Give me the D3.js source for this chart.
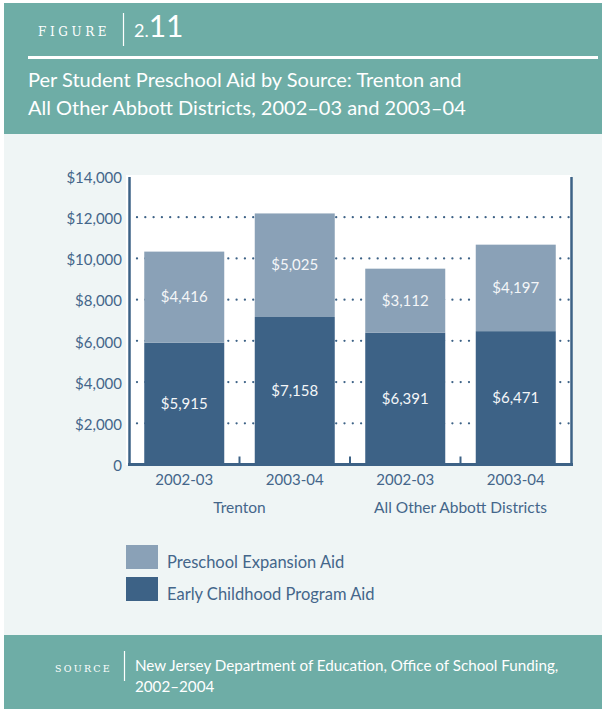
<!DOCTYPE html>
<html>
<head>
<meta charset="utf-8">
<script src="https://cdn.jsdelivr.net/npm/d3@7"></script>
<style>
  body { margin: 0; background: #fff; }
  svg { display: block; }
  text { font-family: Lato, "Open Sans", sans-serif; }
</style>
</head>
<body>
<script>
// chart values
const groups = ['Trenton', 'All Other Abbott Districts'];
const years = ['2002-03', '2003-04'];
const bars = ['T-2002-03', 'T-2003-04', 'A-2002-03', 'A-2003-04'];
const earlyChildhood = [5915, 7158, 6391, 6471];
const preschoolExpansion = [4416, 5025, 3112, 4197];
const seriesNames = ['Preschool Expansion Aid', 'Early Childhood Program Aid'];
const yTicks = [0, 2000, 4000, 6000, 8000, 10000, 12000, 14000];

const W = 602, H = 709;
const teal = '#6eada6';
const dark = '#3d6286';
const light = '#8aa1b7';
const ink = '#44668a';

const svg = d3.select('body').append('svg')
  .attr('width', W)
  .attr('height', H);

// panels
svg.append('rect').attr('x', 4).attr('y', 3).attr('width', W - 4).attr('height', 131).attr('fill', teal);
svg.append('rect').attr('x', 4).attr('y', 134).attr('width', W - 4).attr('height', 501).attr('fill', '#eff5f5');
svg.append('rect').attr('x', 4).attr('y', 635).attr('width', W - 4).attr('height', 74).attr('fill', teal);

// header
svg.append('text')
  .attr('x', 38).attr('y', 36)
  .style('font-family', '"DejaVu Serif", "Liberation Serif", serif')
  .style('font-size', '12px')
  .style('letter-spacing', '3.6px')
  .attr('fill', '#fff')
  .text('FIGURE');
svg.append('line')
  .attr('x1', 123.5).attr('x2', 123.5).attr('y1', 13).attr('y2', 46)
  .attr('stroke', '#fff').attr('stroke-width', 1.2);
let num = svg.append('text').attr('x', 134).attr('y', 37).attr('fill', '#fff');
num.append('tspan').style('font-size', '18px').text('2.');
num.append('tspan').style('font-size', '30px').text('11');

svg.append('rect').attr('x', 28).attr('y', 56).attr('width', W - 28 - 4).attr('height', 3).attr('fill', '#fff');

const titleLines = ['Per Student Preschool Aid by Source: Trenton and',
  'All Other Abbott Districts, 2002\u201303 and 2003\u201304'];
svg.append('g').selectAll('text')
  .data(titleLines)
  .join('text')
  .attr('x', 28)
  .attr('y', (d, i) => 87 + i * 28)
  .attr('fill', '#fff')
  .style('font-size', '20px')
  .text(d => d);

// plot
const x = d3.scaleBand()
  .domain(bars)
  .range([129, 571])
  .paddingInner(0.276)
  .paddingOuter(0.138);

const y = d3.scaleLinear()
  .domain([0, 14000])
  .range([464.5, 176]);

svg.append('rect')
  .attr('x', 126).attr('y', 175)
  .attr('width', 445).attr('height', 290)
  .attr('fill', '#fff');

// dotted gridlines
svg.append('g').selectAll('line')
  .data(yTicks.filter(t => t > 0 && t < 14000))
  .join('line')
  .attr('x1', 137).attr('x2', 570)
  .attr('y1', d => y(d)).attr('y2', d => y(d))
  .attr('stroke', dark)
  .attr('stroke-width', 2.3)
  .attr('stroke-linecap', 'round')
  .attr('stroke-dasharray', '0,8.3');

// stacked bars
const rows = bars.map((b, i) => ({ key: b, early: earlyChildhood[i], pre: preschoolExpansion[i] }));
const stack = d3.stack().keys(['early', 'pre'])(rows);
const colors = { early: dark, pre: light };

const layers = svg.append('g').selectAll('g')
  .data(stack)
  .join('g')
  .attr('fill', d => colors[d.key]);

layers.selectAll('rect')
  .data(d => d)
  .join('rect')
  .attr('x', d => x(d.data.key))
  .attr('width', x.bandwidth())
  .attr('y', d => y(d[1]))
  .attr('height', d => y(d[0]) - y(d[1]));

layers.selectAll('text')
  .data(d => d)
  .join('text')
  .attr('x', d => x(d.data.key) + x.bandwidth() / 2)
  .attr('y', d => (y(d[0]) + y(d[1])) / 2)
  .attr('dy', '0.35em')
  .attr('text-anchor', 'middle')
  .attr('fill', '#f4f6f8')
  .style('font-size', '15px')
  .text(d => '$' + d3.format(',')(d[1] - d[0]));

// axes lines
svg.append('line').attr('x1', 129.5).attr('x2', 129.5).attr('y1', 177).attr('y2', 466)
  .attr('stroke', dark).attr('stroke-width', 2.5);
svg.append('line').attr('x1', 571.5).attr('x2', 571.5).attr('y1', 177).attr('y2', 466)
  .attr('stroke', dark).attr('stroke-width', 2.5);
svg.append('line').attr('x1', 128).attr('x2', 573).attr('y1', y(0)).attr('y2', y(0))
  .attr('stroke', dark).attr('stroke-width', 3);

// small ticks between bars
const step = x.step();
svg.append('g').selectAll('line')
  .data(bars.slice(0, -1))
  .join('line')
  .attr('x1', d => x(d) + x.bandwidth() + (step - x.bandwidth()) / 2)
  .attr('x2', d => x(d) + x.bandwidth() + (step - x.bandwidth()) / 2)
  .attr('y1', y(0)).attr('y2', y(0) - 8)
  .attr('stroke', dark).attr('stroke-width', 2);

// y axis labels
const yAxis = d3.axisLeft(y)
  .tickValues(yTicks)
  .tickSize(0)
  .tickPadding(0)
  .tickFormat(d => d === 0 ? '0' : '$' + d3.format(',')(d));
const ya = svg.append('g').attr('transform', 'translate(122,1.5)').call(yAxis);
ya.select('.domain').remove();
ya.selectAll('text')
  .attr('fill', ink)
  .style('font-size', '15px')
  .style('font-family', 'Lato, "Open Sans", sans-serif');

// x category labels
const xAxis = d3.axisBottom(x)
  .tickSize(0)
  .tickPadding(0)
  .tickFormat((d, i) => years[i % 2]);
const xa = svg.append('g').attr('transform', 'translate(0,' + 474 + ')').call(xAxis);
xa.select('.domain').remove();
xa.selectAll('text')
  .attr('fill', ink)
  .attr('dy', '0.71em')
  .style('font-size', '15px')
  .style('font-family', 'Lato, "Open Sans", sans-serif');

svg.append('g').selectAll('text')
  .data(groups)
  .join('text')
  .attr('x', (d, i) => {
    const a = x(bars[i * 2]), b = x(bars[i * 2 + 1]) + x.bandwidth();
    return (a + b) / 2;
  })
  .attr('y', 513)
  .attr('text-anchor', 'middle')
  .attr('fill', ink)
  .style('font-size', '15.5px')
  .text(d => d);

// legend
const legend = svg.append('g').selectAll('g')
  .data(seriesNames)
  .join('g')
  .attr('transform', (d, i) => 'translate(126,' + (545 + i * 32) + ')');
legend.append('rect')
  .attr('width', 32).attr('height', 24)
  .attr('fill', (d, i) => i === 0 ? light : dark);
legend.append('text')
  .attr('x', 41).attr('y', 23)
  .attr('fill', ink)
  .style('font-size', '16.5px')
  .text(d => d);

// footer
svg.append('text')
  .attr('x', 55).attr('y', 672)
  .style('font-family', '"DejaVu Serif", "Liberation Serif", serif')
  .style('font-size', '9.5px')
  .style('letter-spacing', '2.2px')
  .attr('fill', '#fff')
  .text('SOURCE');
svg.append('line')
  .attr('x1', 124.5).attr('x2', 124.5).attr('y1', 651).attr('y2', 681)
  .attr('stroke', '#fff').attr('stroke-width', 1.2);
const sourceLines = ['New Jersey Department of Education, Office of School Funding,', '2002\u20132004'];
svg.append('g').selectAll('text')
  .data(sourceLines)
  .join('text')
  .attr('x', 135)
  .attr('y', (d, i) => 671 + i * 21)
  .attr('fill', '#fff')
  .style('font-size', '15.2px')
  .text(d => d);
</script>
</body>
</html>
